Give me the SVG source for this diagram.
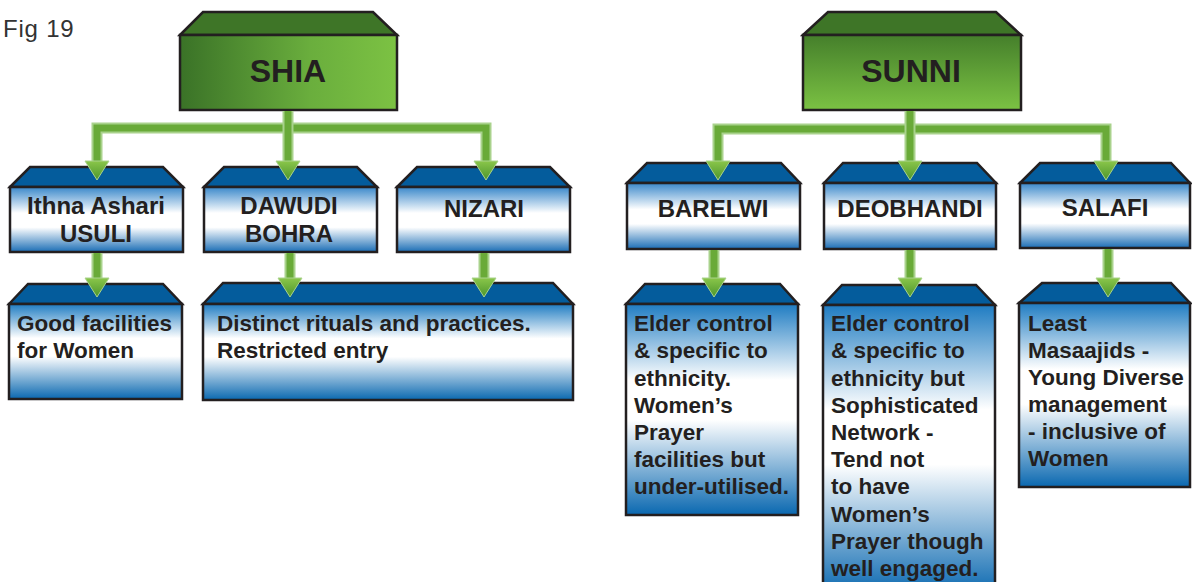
<svg xmlns="http://www.w3.org/2000/svg" xmlns:xlink="http://www.w3.org/1999/xlink" width="1192" height="582" viewBox="0 0 1192 582">
<style>
  .edge{stroke:#231f20;stroke-width:2.5;stroke-linejoin:miter}
  .btop{fill:#045c9c}
  .gtop{fill:#3e7527}
  .head{font-family:"Liberation Sans",Arial,sans-serif;font-weight:bold;font-size:24px;fill:#231f20;text-anchor:middle}
  .big{font-family:"Liberation Sans",Arial,sans-serif;font-weight:bold;font-size:32px;fill:#231f20;text-anchor:middle}
  .body{font-family:"Liberation Sans",Arial,sans-serif;font-weight:bold;font-size:22.5px;fill:#231f20}
  .fig{font-family:"Liberation Sans",Arial,sans-serif;font-size:24px;letter-spacing:0.8px;fill:#333333}
  .band{fill:none;stroke:#a9d28c;stroke-width:11;stroke-linejoin:miter}
  .bandin{fill:none;stroke:#69aa38;stroke-width:7;stroke-linejoin:miter}
</style>
<defs>
  <linearGradient id="gShia" x1="0" y1="0" x2="1" y2="0">
    <stop offset="0" stop-color="#3a7227"/>
    <stop offset="0.6" stop-color="#6aae3d"/>
    <stop offset="1" stop-color="#7cc243"/>
  </linearGradient>
  <linearGradient id="gSunni" x1="0" y1="0" x2="0" y2="1">
    <stop offset="0" stop-color="#457f2b"/>
    <stop offset="1" stop-color="#7bc243"/>
  </linearGradient>
  <linearGradient id="gL2" x1="0" y1="0" x2="0" y2="1">
    <stop offset="0" stop-color="#3a88ca"/>
    <stop offset="0.4" stop-color="#ffffff"/>
    <stop offset="0.62" stop-color="#ffffff"/>
    <stop offset="1" stop-color="#1a6db5"/>
  </linearGradient>
  <linearGradient id="gL3" x1="0" y1="0" x2="0" y2="1">
    <stop offset="0" stop-color="#1f7cc2"/>
    <stop offset="0.36" stop-color="#ffffff"/>
    <stop offset="0.55" stop-color="#ffffff"/>
    <stop offset="1" stop-color="#0a68b0"/>
  </linearGradient>
  <linearGradient id="gHead" x1="0" y1="0" x2="0" y2="1">
    <stop offset="0" stop-color="#8ac64a"/>
    <stop offset="1" stop-color="#4d952c"/>
  </linearGradient>
  <path id="ah" d="M-12,-19 L12,-19 L0,0 Z" fill="url(#gHead)" stroke="#a9d28c" stroke-width="1"/>
</defs>
<rect x="0" y="0" width="1192" height="582" fill="#ffffff"/>

<text class="fig" x="3" y="37">Fig 19</text>

<g id="shia">
  <polygon class="edge gtop" points="180,35 203,12 373,12 397,35"/>
  <rect class="edge" x="180" y="35" width="217" height="75" fill="url(#gShia)"/>
  <text class="big" x="288" y="82">SHIA</text>
</g>
<g id="sunni">
  <polygon class="edge gtop" points="803,35 828,12 996,12 1021,35"/>
  <rect class="edge" x="803" y="35" width="218" height="75" fill="url(#gSunni)"/>
  <text class="big" x="911" y="82">SUNNI</text>
</g>

<g id="ithna">
  <polygon class="edge btop" points="10,187 30,167 163,167 183,187"/>
  <rect class="edge" x="10" y="187" width="173" height="65" fill="url(#gL2)"/>
  <text class="head" x="96" y="214">Ithna Ashari</text>
  <text class="head" x="96" y="242">USULI</text>
</g>
<g id="dawudi">
  <polygon class="edge btop" points="204,187 224,167 357,167 377,187"/>
  <rect class="edge" x="204" y="187" width="173" height="65" fill="url(#gL2)"/>
  <text class="head" x="289" y="214">DAWUDI</text>
  <text class="head" x="289" y="242">BOHRA</text>
</g>
<g id="nizari">
  <polygon class="edge btop" points="397,187 417,167 550,167 570,187"/>
  <rect class="edge" x="397" y="187" width="173" height="65" fill="url(#gL2)"/>
  <text class="head" x="484" y="217">NIZARI</text>
</g>
<g id="barelwi">
  <polygon class="edge btop" points="627,183 647,163 781,163 800,183"/>
  <rect class="edge" x="627" y="183" width="173" height="66" fill="url(#gL2)"/>
  <text class="head" x="713" y="217">BARELWI</text>
</g>
<g id="deobhandi">
  <polygon class="edge btop" points="824,183 843,163 977,163 996,183"/>
  <rect class="edge" x="824" y="183" width="172" height="66" fill="url(#gL2)"/>
  <text class="head" x="910" y="217">DEOBHANDI</text>
</g>
<g id="salafi">
  <polygon class="edge btop" points="1020,183 1040,163 1171,163 1190,183"/>
  <rect class="edge" x="1020" y="183" width="170" height="65" fill="url(#gL2)"/>
  <text class="head" x="1105" y="216">SALAFI</text>
</g>

<g id="good-facilities">
  <polygon class="edge btop" points="9,304 28,284 163,284 182,304"/>
  <rect class="edge" x="9" y="304" width="173" height="95" fill="url(#gL3)"/>
  <text class="body" x="17" y="331">Good facilities</text>
  <text class="body" x="17" y="358">for Women</text>
</g>
<g id="distinct">
  <polygon class="edge btop" points="203,304 223,283 553,283 573,304"/>
  <rect class="edge" x="203" y="304" width="370" height="96" fill="url(#gL3)"/>
  <text class="body" x="217" y="331">Distinct rituals and practices.</text>
  <text class="body" x="217" y="358">Restricted entry</text>
</g>
<g id="barelwi-desc">
  <polygon class="edge btop" points="626,304 645,284 780,284 798,304"/>
  <rect class="edge" x="626" y="304" width="172" height="211" fill="url(#gL3)"/>
  <text class="body" x="634" y="331">Elder control</text>
  <text class="body" x="634" y="358">&amp; specific to</text>
  <text class="body" x="634" y="386">ethnicity.</text>
  <text class="body" x="634" y="413">Women’s</text>
  <text class="body" x="634" y="440">Prayer</text>
  <text class="body" x="634" y="467">facilities but</text>
  <text class="body" x="634" y="494">under-utilised.</text>
</g>
<g id="deobhandi-desc">
  <polygon class="edge btop" points="823,305 842,285 976,285 995,305"/>
  <rect class="edge" x="823" y="305" width="172" height="290" fill="url(#gL3)"/>
  <text class="body" x="831" y="331">Elder control</text>
  <text class="body" x="831" y="358">&amp; specific to</text>
  <text class="body" x="831" y="386">ethnicity but</text>
  <text class="body" x="831" y="413">Sophisticated</text>
  <text class="body" x="831" y="440">Network -</text>
  <text class="body" x="831" y="467">Tend not</text>
  <text class="body" x="831" y="494">to have</text>
  <text class="body" x="831" y="522">Women’s</text>
  <text class="body" x="831" y="549">Prayer though</text>
  <text class="body" x="831" y="576">well engaged.</text>
</g>
<g id="salafi-desc">
  <polygon class="edge btop" points="1019,303 1042,283 1171,283 1190,303"/>
  <rect class="edge" x="1019" y="303" width="171" height="184" fill="url(#gL3)"/>
  <text class="body" x="1028" y="331">Least</text>
  <text class="body" x="1028" y="358">Masaajids -</text>
  <text class="body" x="1028" y="385">Young Diverse</text>
  <text class="body" x="1028" y="412">management</text>
  <text class="body" x="1028" y="439">- inclusive of</text>
  <text class="body" x="1028" y="466">Women</text>
</g>

<g id="connectors">
  <path class="band" d="M97,163 V128 H486 V163"/>
  <path class="bandin" d="M97,163 V128 H486 V163"/>
  <path class="band" d="M288,111 V163"/>
  <path class="bandin" d="M288,111 V163"/>
  <use xlink:href="#ah" x="97" y="180"/>
  <use xlink:href="#ah" x="288" y="180"/>
  <use xlink:href="#ah" x="486" y="180"/>
  <path class="band" d="M97,253 V280"/><path class="bandin" d="M97,253 V280"/>
  <path class="band" d="M290,253 V280"/><path class="bandin" d="M290,253 V280"/>
  <path class="band" d="M484,253 V280"/><path class="bandin" d="M484,253 V280"/>
  <use xlink:href="#ah" x="97" y="297"/>
  <use xlink:href="#ah" x="290" y="297"/>
  <use xlink:href="#ah" x="484" y="297"/>
  <path class="band" d="M718,163 V129 H1106 V163"/>
  <path class="bandin" d="M718,163 V129 H1106 V163"/>
  <path class="band" d="M910,111 V163"/>
  <path class="bandin" d="M910,111 V163"/>
  <use xlink:href="#ah" x="718" y="180"/>
  <use xlink:href="#ah" x="910" y="180"/>
  <use xlink:href="#ah" x="1106" y="180"/>
  <path class="band" d="M714,250 V280"/><path class="bandin" d="M714,250 V280"/>
  <path class="band" d="M910,250 V280"/><path class="bandin" d="M910,250 V280"/>
  <path class="band" d="M1108,249 V280"/><path class="bandin" d="M1108,249 V280"/>
  <use xlink:href="#ah" x="714" y="297"/>
  <use xlink:href="#ah" x="910" y="297"/>
  <use xlink:href="#ah" x="1108" y="297"/>
</g>
</svg>
